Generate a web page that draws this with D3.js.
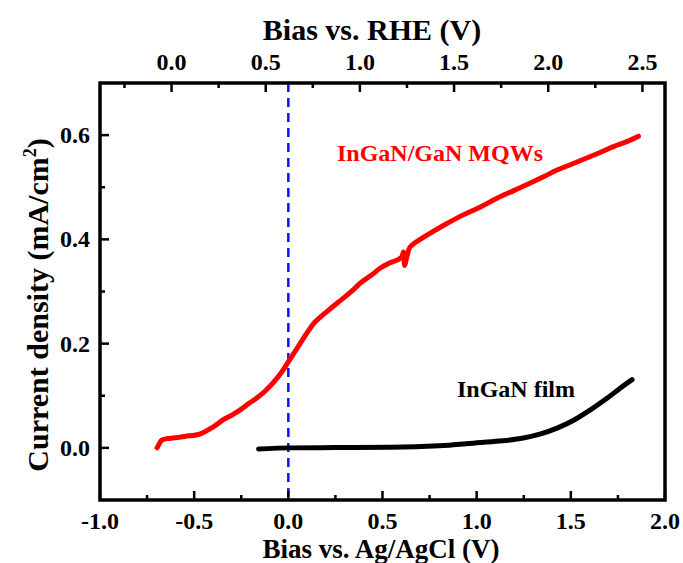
<!DOCTYPE html>
<html><head><meta charset="utf-8">
<script src="https://cdn.jsdelivr.net/npm/d3@7"></script>
<style>body{margin:0;background:#fff}svg{display:block}text{font-family:"Liberation Serif","Times New Roman",serif;font-weight:bold}</style>
</head><body>
<script>
// Bias vs Ag/AgCl (V) and current density (mA/cm^2)
const mqwV = [-0.697,-0.685,-0.671,-0.64,-0.611,-0.55,-0.467,-0.40,-0.345,-0.30,-0.255,-0.21,-0.166,-0.12,-0.080,-0.04,0.0,0.032,0.064,0.10,0.133,0.17,0.206,0.26,0.312,0.35,0.382,0.44,0.489,0.54,0.595,0.605,0.611,0.614,0.618,0.625,0.640,0.657,0.70,0.754,0.84,0.929,1.02,1.108,1.20,1.285,1.36,1.427,1.51,1.604,1.67,1.726,1.80,1.859];
const mqwJ = [0.0,0.008,0.015,0.018,0.019,0.022,0.027,0.040,0.054,0.063,0.073,0.085,0.096,0.110,0.125,0.143,0.165,0.183,0.201,0.221,0.238,0.251,0.262,0.278,0.293,0.305,0.316,0.331,0.345,0.355,0.364,0.368,0.376,0.362,0.350,0.360,0.381,0.389,0.400,0.412,0.430,0.447,0.462,0.479,0.494,0.508,0.521,0.533,0.545,0.559,0.569,0.578,0.588,0.598];
const filmV = [-0.158,0.011,0.25,0.542,0.80,0.982,1.12,1.248,1.34,1.427,1.52,1.604,1.692,1.76,1.825];
const filmJ = [-0.002,0.0,0.0005,0.001,0.004,0.009,0.013,0.019,0.027,0.038,0.054,0.073,0.095,0.114,0.131];
const xTicks = [-1.0,-0.5,0.0,0.5,1.0,1.5,2.0];
const yTicks = [0.0,0.2,0.4,0.6];
const rheTicks = [0.0,0.5,1.0,1.5,2.0,2.5];
const rheOffset = 0.62;
const labels = {x:"Bias vs. Ag/AgCl (V)", top:"Bias vs. RHE (V)", mqw:"InGaN/GaN MQWs", film:"InGaN film"};

const W=683,H=563;
const svg=d3.select("body").append("svg").attr("width",W).attr("height",H);
const L=100,R=665,T=83,B=500;
const x=d3.scaleLinear().domain([-1,2]).range([L,R]);
const y=d3.scaleLinear().domain([-0.1,0.7]).range([B,T]);
const xr=d3.scaleLinear().domain([-1+rheOffset,2+rheOffset]).range([L,R]);

svg.append("line").attr("x1",x(0)).attr("x2",x(0)).attr("y1",T).attr("y2",B)
  .attr("stroke","#1010ff").attr("stroke-width",2.5).attr("stroke-dasharray","9,6");

const line=d3.line().x(d=>x(d[0])).y(d=>y(d[1])).curve(d3.curveMonotoneX);
svg.append("path").datum(filmV.map((v,i)=>[v,filmJ[i]])).attr("d",line)
  .attr("fill","none").attr("stroke","#000").attr("stroke-width",5).attr("stroke-linecap","round");
svg.append("path").datum(mqwV.map((v,i)=>[v,mqwJ[i]])).attr("d",line)
  .attr("fill","none").attr("stroke","#ff0000").attr("stroke-width",5).attr("stroke-linecap","round").attr("stroke-linejoin","round");

const minorX=d3.range(-1,2.001,0.25);
const minorY=d3.range(-0.1,0.701,0.1);
const minorR=d3.range(-0.25,2.601,0.25);
const g=svg.append("g");
function tk(x1,y1,x2,y2){g.append("line").attr("x1",x1).attr("y1",y1).attr("x2",x2).attr("y2",y2).attr("stroke","#000").attr("stroke-width",2.5);}
minorX.forEach(v=>{const major=xTicks.some(t=>Math.abs(t-v)<1e-6);tk(x(v),B,x(v),B-(major?9:5));});
minorY.forEach(v=>{const major=yTicks.some(t=>Math.abs(t-v)<1e-6);if(v>0.69||v<-0.09)return;tk(L,y(v),L+(major?9:5),y(v));});
minorR.forEach(v=>{const major=rheTicks.some(t=>Math.abs(t-v)<1e-6);if(xr(v)<L+2||xr(v)>R-2)return;tk(xr(v),T,xr(v),T+(major?9:5));});

g.append("rect").attr("x",L).attr("y",T).attr("width",R-L).attr("height",B-T)
  .attr("fill","none").attr("stroke","#000").attr("stroke-width",3.5);

const tfs=24;
xTicks.forEach(v=>svg.append("text").attr("x",x(v)).attr("y",529).attr("text-anchor","middle").attr("font-size",tfs).text(v.toFixed(1)));
yTicks.forEach(v=>svg.append("text").attr("x",90).attr("y",y(v)+8).attr("text-anchor","end").attr("font-size",tfs).text(v.toFixed(1)));
rheTicks.forEach(v=>svg.append("text").attr("x",xr(v)).attr("y",70).attr("text-anchor","middle").attr("font-size",tfs).text(v.toFixed(1)));

svg.append("text").attr("x",381).attr("y",558).attr("text-anchor","middle").attr("font-size",27).text(labels.x);
svg.append("text").attr("x",372).attr("y",40).attr("text-anchor","middle").attr("font-size",30).text(labels.top);
const yt=svg.append("text").attr("transform","translate(48,305) rotate(-90)").attr("text-anchor","middle").attr("font-size",30);
yt.append("tspan").text("Current density (mA/cm");
yt.append("tspan").attr("dy",-12).attr("font-size",18).text("2");
yt.append("tspan").attr("dy",12).text(")");

svg.append("text").attr("x",337).attr("y",161).attr("font-size",24).attr("fill","#ff0000").text(labels.mqw);
svg.append("text").attr("x",457).attr("y",397).attr("font-size",24).attr("fill","#000").text(labels.film);
</script>
</body></html>
